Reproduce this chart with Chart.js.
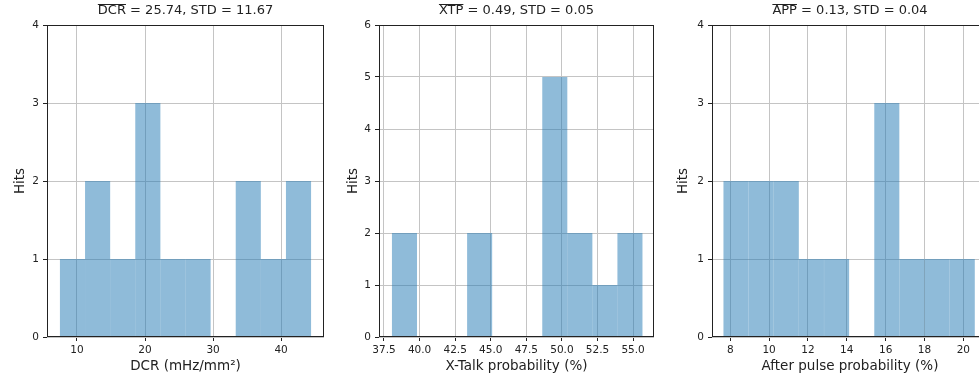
<!DOCTYPE html>
<html>
<head>
<meta charset="utf-8">
<script src="https://cdn.jsdelivr.net/npm/chart.js@4.4.1/dist/chart.umd.min.js"></script>
<style>
  html, body { margin: 0; padding: 0; background: #fff; }
  #wrap { position: relative; width: 979px; height: 380px; overflow: hidden; }
  canvas { position: absolute; top: 0; }
</style>
</head>
<body>
<div id="wrap">
  <canvas id="c1" width="330" height="380" style="left:0px"></canvas>
  <canvas id="c2" width="330" height="380" style="left:330px"></canvas>
  <canvas id="c3" width="340" height="380" style="left:660px"></canvas>
</div>
<script>
// DCR
const dcrEdges = [7.5, 11.19, 14.88, 18.57, 22.26, 25.95, 29.64, 33.33, 37.02, 40.71, 44.4];
const dcrHits = [1, 2, 1, 3, 1, 1, 0, 2, 1, 2];
const dcrTicks = [10, 20, 30, 40];

// X-Talk
const xtpEdges = [38.06, 39.82, 41.58, 43.34, 45.10, 46.86, 48.62, 50.38, 52.14, 53.90, 55.66];
const xtpHits = [2, 0, 0, 2, 0, 0, 5, 2, 1, 2];
const xtpTicks = [37.5, 40.0, 42.5, 45.0, 47.5, 50.0, 52.5, 55.0];

// After pulse
const appEdges = [7.65, 8.94, 10.24, 11.53, 12.83, 14.12, 15.41, 16.71, 18.0, 19.3, 20.59];
const appHits = [2, 2, 2, 1, 1, 0, 3, 1, 1, 1];
const appTicks = [8, 10, 12, 14, 16, 18, 20];

const FONT = '"DejaVu Sans", sans-serif';
const INK = '#222';

// trait au-dessus du symbole de la moyenne + cadre complet
const overlinePlugin = {
  id: 'overline',
  afterDraw(chart, args, opts) {
    const ctx = chart.ctx;
    const a = chart.chartArea;
    ctx.save();
    ctx.strokeStyle = INK;
    ctx.lineWidth = 1;
    ctx.strokeRect(Math.round(a.left) + 0.5, Math.round(a.top) + 0.5,
                   Math.round(a.right - a.left) - 1, Math.round(a.bottom - a.top) - 1);
    const tb = chart.titleBlock;
    const t = chart.options.plugins.title;
    ctx.font = t.font.size + 'px ' + FONT;
    const full = ctx.measureText(t.text).width;
    const w1 = ctx.measureText(opts.sym).width;
    const x0 = (tb.left + tb.right) / 2 - full / 2;
    ctx.beginPath();
    ctx.moveTo(x0, 4.5);
    ctx.lineTo(x0 + w1, 4.5);
    ctx.stroke();
    ctx.restore();
  }
};

function makeHist(id, o) {
  const pts = o.hits.map((h, i) => ({ x: (o.edges[i] + o.edges[i + 1]) / 2, y: h }));
  return new Chart(document.getElementById(id), {
    type: 'bar',
    data: {
      datasets: [{
        data: pts,
        backgroundColor: 'rgba(31,119,180,0.5)',
        borderWidth: 0,
        inflateAmount: 0,
        barPercentage: 1,
        categoryPercentage: 1
      }]
    },
    plugins: [overlinePlugin],
    options: {
      responsive: false,
      animation: false,
      layout: { padding: { left: 0, right: o.padRight, top: 0, bottom: 0 } },
      plugins: {
        legend: { display: false },
        tooltip: { enabled: false },
        title: {
          display: true,
          text: o.title,
          fullSize: false,
          color: INK,
          font: { family: FONT, size: 13, weight: 'normal' },
          padding: { top: 3, bottom: 6.4 }
        },
        overline: { sym: o.sym }
      },
      scales: {
        x: {
          type: 'linear',
          offset: false,
          min: o.xmin,
          max: o.xmax,
          afterBuildTicks: s => { s.ticks = o.ticks.map(v => ({ value: v })); },
          afterFit: s => { s.height = 43; },
          ticks: {
            color: INK,
            font: { family: FONT, size: 10.5 },
            padding: 3,
            maxRotation: 0,
            autoSkip: false,
            callback: v => o.fmt(v)
          },
          grid: { offset: false, color: '#c4c4c4', tickColor: INK, tickLength: 4 },
          border: { display: false },
          title: {
            display: true,
            text: o.xlabel,
            color: INK,
            font: { family: FONT, size: 13.5 },
            padding: { top: 0, bottom: 5 }
          }
        },
        y: {
          min: 0,
          max: o.ymax,
          afterFit: s => { s.width = o.yw; },
          ticks: {
            stepSize: 1,
            color: INK,
            font: { family: FONT, size: 10.5 },
            padding: 4
          },
          grid: { color: '#c4c4c4', tickColor: INK, tickLength: 4 },
          border: { display: false },
          title: {
            display: true,
            text: 'Hits',
            color: INK,
            font: { family: FONT, size: 13.5 },
            padding: { top: o.ytp, bottom: 0 }
          }
        }
      }
    }
  });
}

makeHist('c1', {
  edges: dcrEdges, hits: dcrHits, ticks: dcrTicks,
  xmin: 5.6, xmax: 46.3, ymax: 4, yw: 47, ytp: 12, padRight: 6,
  title: 'DCR = 25.74, STD = 11.67', sym: 'DCR',
  xlabel: 'DCR (mHz/mm²)', fmt: v => String(v)
});
makeHist('c2', {
  edges: xtpEdges, hits: xtpHits, ticks: xtpTicks,
  xmin: 37.15, xmax: 56.47, ymax: 6, yw: 49, ytp: 15, padRight: 6,
  title: 'XTP = 0.49, STD = 0.05', sym: 'XTP',
  xlabel: 'X-Talk probability (%)', fmt: v => v.toFixed(1)
});
makeHist('c3', {
  edges: appEdges, hits: appHits, ticks: appTicks,
  xmin: 7.06, xmax: 21.27, ymax: 4, yw: 52, ytp: 15, padRight: 12,
  title: 'APP = 0.13, STD = 0.04', sym: 'APP',
  xlabel: 'After pulse probability (%)', fmt: v => String(v)
});
</script>
</body>
</html>
